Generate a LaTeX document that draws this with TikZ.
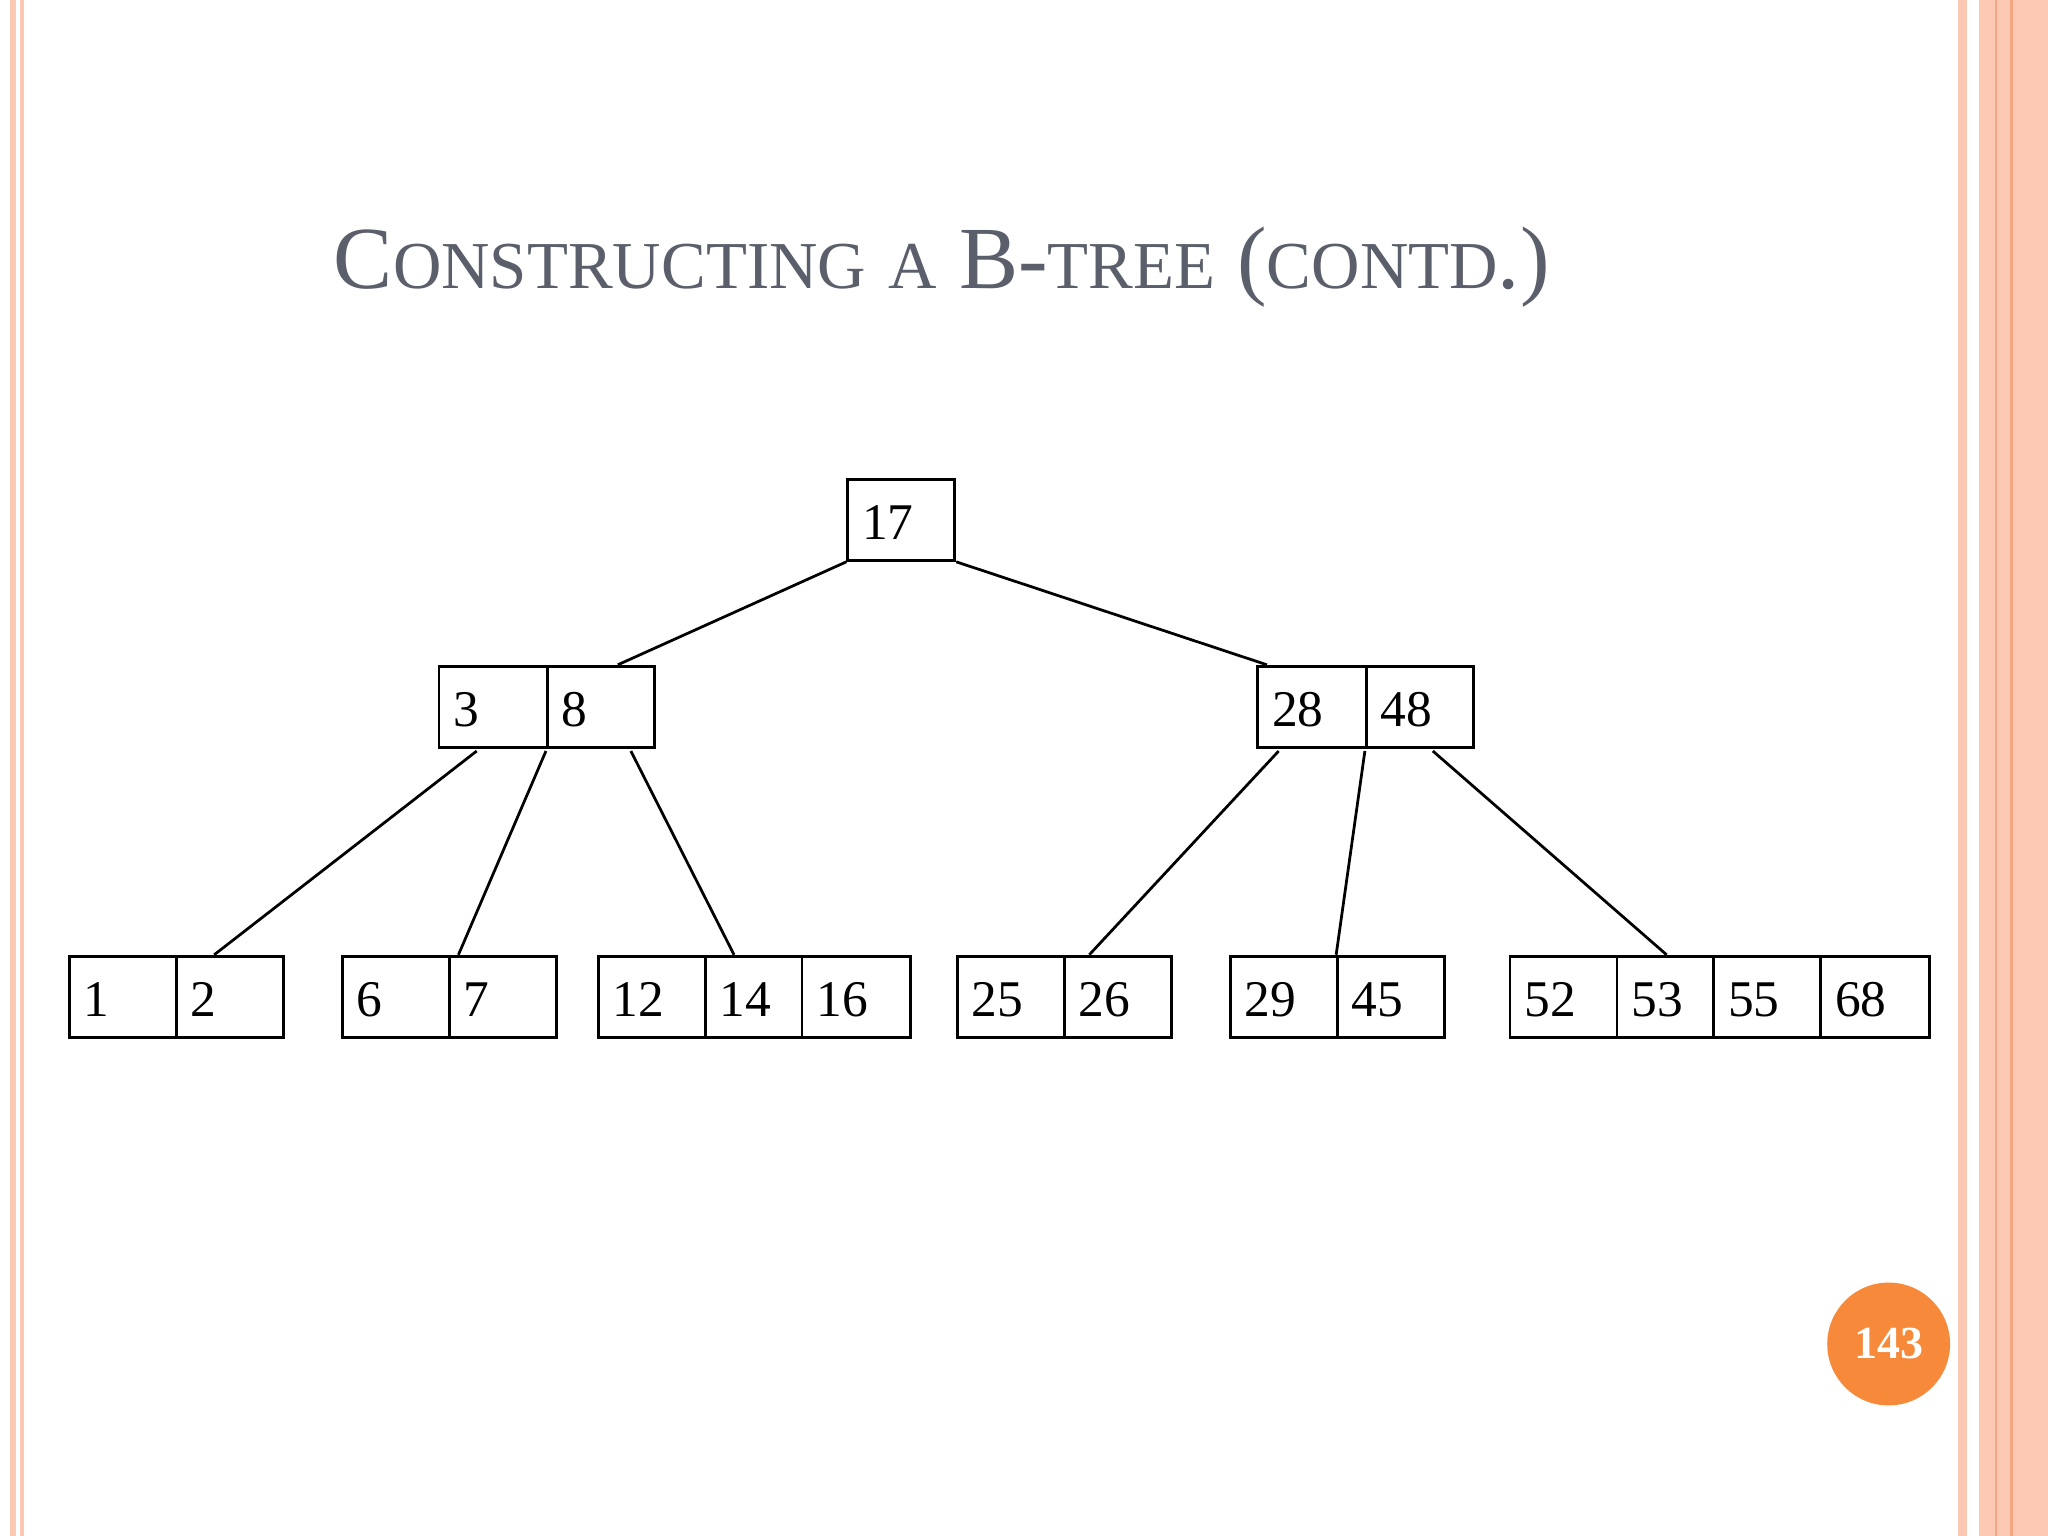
\documentclass[tikz,border=0pt]{standalone}
\usepackage{fontspec}
\setmainfont{Liberation Serif}
\definecolor{titlegray}{HTML}{5B5F6B}
\definecolor{peach}{HTML}{FBC8B3}
\definecolor{peachline}{HTML}{F4A584}
\definecolor{badge}{HTML}{F78A3A}
\newcommand{\SC}[1]{{\fontsize{14.6}{17}\selectfont #1}}
\begin{document}
\begin{tikzpicture}[x=0.01cm,y=-0.01cm,
  cell/.style={draw,line width=0.6pt,anchor=north west,inner sep=0pt,minimum height=0.62cm,text height=0.33cm,text depth=0.03cm,align=left,font=\fontsize{11.2}{13}\selectfont},
  edge/.style={line width=0.6pt}]
\useasboundingbox (0,0) rectangle (1568,1176);
\fill[white] (0,0) rectangle (1568,1176);
% borders
\fill[peach] (8,0) rectangle (12,1176);
\fill[peach] (15,0) rectangle (18,1176);
\fill[peach] (1499,0) rectangle (1506,1176);
\fill[peach] (1515,0) rectangle (1568,1176);
\draw[peachline,line width=0.5pt] (1528,0) -- (1528,1176);
\draw[peachline,line width=0.5pt] (1540,0) -- (1540,1176);
% title
\node[anchor=base west,text=titlegray,inner sep=0pt,font=\fontsize{19.3}{23}\selectfont] (title) at (255,221)
 {C\SC{ONSTRUCTING} \SC{A} B-\SC{TREE} (\SC{CONTD}.)};
\newcommand{\cellnode}[5]{\node[cell,minimum width=#4*0.01cm,text width=#4*0.01cm-0.16cm] (#1) at (#2,#3) {\hspace*{0.03cm}#5};}
\cellnode{r}{648}{366}{82}{17}
\cellnode{la}{335}{509}{83}{3}
\cellnode{lb}{418}{509}{82}{8}
\cellnode{ra}{962}{509}{83}{28}
\cellnode{rb}{1045}{509}{82}{48}
\cellnode{a1}{52}{731}{82}{1}
\cellnode{a2}{134}{731}{82}{2}
\cellnode{b1}{261}{731}{82}{6}
\cellnode{b2}{343}{731}{82}{7}
\cellnode{c1}{457}{731}{82}{12}
\cellnode{c2}{539}{731}{74}{14}
\cellnode{c3}{613}{731}{83}{16}
\cellnode{d1}{732}{731}{82}{25}
\cellnode{d2}{814}{731}{82}{26}
\cellnode{e1}{941}{731}{82}{29}
\cellnode{e2}{1023}{731}{82}{45}
\cellnode{f1}{1155}{731}{82}{52}
\cellnode{f2}{1237}{731}{74}{53}
\cellnode{f3}{1311}{731}{82}{55}
\cellnode{f4}{1393}{731}{83}{68}
\coordinate (p1) at (473,509); \coordinate (p2) at (970,509);
\coordinate (q1) at (365,575); \coordinate (q2) at (418,575); \coordinate (q3) at (483,575);
\coordinate (s1) at (979,575); \coordinate (s2) at (1045,575); \coordinate (s3) at (1097,575);
\coordinate (t1) at (164,731); \coordinate (t2) at (351,731); \coordinate (t3) at (562,731);
\coordinate (u1) at (834,731); \coordinate (u2) at (1023,731); \coordinate (u3) at (1276,731);
\draw[edge] (r.south west) -- (p1);
\draw[edge] (r.south east) -- (p2);
\draw[edge] (q1) -- (t1);
\draw[edge] (q2) -- (t2);
\draw[edge] (q3) -- (t3);
\draw[edge] (s1) -- (u1);
\draw[edge] (s2) -- (u2);
\draw[edge] (s3) -- (u3);
\node[circle,fill=badge,minimum size=0.94cm,inner sep=0pt,text=white,font=\fontsize{10}{12}\selectfont\bfseries] (badge) at (1446,1029) {143};
\end{tikzpicture}
\end{document}
